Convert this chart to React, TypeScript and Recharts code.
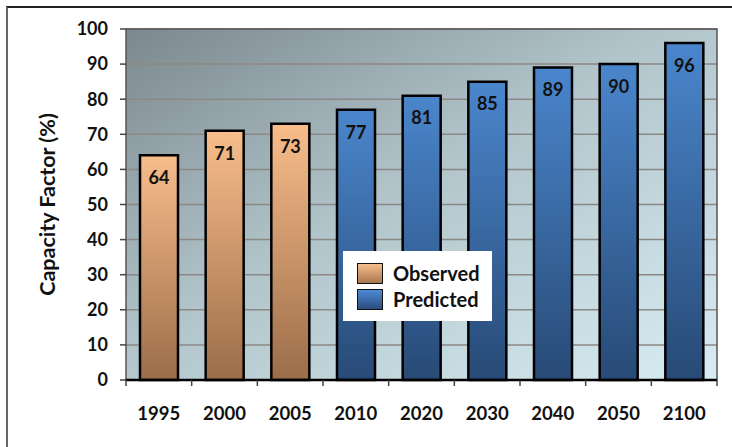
import React from 'react';
import {
  BarChart,
  Bar,
  XAxis,
  YAxis,
  CartesianGrid,
  Legend,
  LabelList,
  ReferenceArea,
} from 'recharts';

const years = ['1995', '2000', '2005', '2010', '2020', '2030', '2040', '2050', '2100'];
const observed: (number | null)[] = [64, 71, 73, null, null, null, null, null, null];
const predicted: (number | null)[] = [null, null, null, 77, 81, 85, 89, 90, 96];
const yTicks = [0, 10, 20, 30, 40, 50, 60, 70, 80, 90, 100];

const seriesNames = { observed: 'Observed', predicted: 'Predicted' };

const data = years.map((year, i) => ({
  year,
  observed: observed[i],
  predicted: predicted[i],
}));

const FONT = 'Lato, "Open Sans", sans-serif';

const YearTick = (props: any) => {
  const { x, y, payload, index, width } = props;
  const band = (width || 591) / years.length;
  const left = x - band / 2;
  const right = x + band / 2;
  return (
    <g>
      <line x1={left} y1={y} x2={left} y2={y + 6} stroke="#444" strokeWidth={1.5} />
      {index === years.length - 1 && (
        <line x1={right} y1={y} x2={right} y2={y + 6} stroke="#444" strokeWidth={1.5} />
      )}
      <text
        x={x}
        y={y + 40}
        textAnchor="middle"
        fontFamily={FONT}
        fontWeight={700}
        fontSize={18.5}
        fill="#111"
      >
        {payload.value}
      </text>
    </g>
  );
};

const swatch = (from: string, to: string): React.CSSProperties => ({
  width: 24,
  height: 19,
  border: '1.5px solid #111',
  background: `linear-gradient(to bottom, ${from}, ${to})`,
  marginRight: 10,
});

const LegendBox = () => (
  <div
    style={{
      background: '#fff',
      width: 149,
      height: 70,
      boxSizing: 'border-box',
      padding: '11px 0 0 14px',
      fontFamily: FONT,
      fontWeight: 700,
      fontSize: 20,
      color: '#111',
    }}
  >
    <div style={{ display: 'flex', alignItems: 'center', height: 22, marginBottom: 4 }}>
      <div style={swatch('#f8bd8c', '#a8774f')} />
      <span>{seriesNames.observed}</span>
    </div>
    <div style={{ display: 'flex', alignItems: 'center', height: 22 }}>
      <div style={swatch('#4d8bd6', '#2a4d7c')} />
      <span>{seriesNames.predicted}</span>
    </div>
  </div>
);

const labelStyle = { fontFamily: FONT, fontWeight: 700, fontSize: 18, fill: '#111' };

export default function App() {
  return (
    <div style={{ position: 'absolute', left: 0, top: 0, width: 732, height: 447, overflow: 'hidden', background: '#fff' }}>
      <div
        style={{
          position: 'absolute',
          left: 6,
          top: 6,
          width: 760,
          height: 480,
          borderTop: '2px solid #222',
          borderLeft: '2px solid #666',
        }}
      />
      <div style={{ position: 'absolute', left: 0, top: 0 }}>
        <BarChart
          width={732}
          height={447}
          data={data}
          margin={{ top: 29, right: 15, bottom: 37, left: 66 }}
          barSize={38}
        >
          <defs>
            <linearGradient id="plotBg" x1="0" y1="0" x2="1" y2="1">
              <stop offset="0%" stopColor="#7c888e" />
              <stop offset="45%" stopColor="#b0c4ca" />
              <stop offset="100%" stopColor="#d8ecf3" />
            </linearGradient>
            <linearGradient id="obsFill" x1="0" y1="0" x2="0" y2="1">
              <stop offset="0%" stopColor="#f9bd8b" />
              <stop offset="100%" stopColor="#9b6d49" />
            </linearGradient>
            <linearGradient id="predFill" x1="0" y1="0" x2="0" y2="1">
              <stop offset="0%" stopColor="#4a86cc" />
              <stop offset="100%" stopColor="#284a76" />
            </linearGradient>
          </defs>
          <CartesianGrid vertical={false} fill="url(#plotBg)" stroke="#8c8884" strokeWidth={1.5} />
          <ReferenceArea
            x1={years[0]}
            x2={years[years.length - 1]}
            y1={0}
            y2={100}
            fill="none"
            stroke="#555"
            strokeWidth={1.5}
            ifOverflow="visible"
          />
          <XAxis
            dataKey="year"
            tick={<YearTick />}
            tickLine={false}
            tickSize={0}
            tickMargin={0}
            axisLine={{ stroke: '#000', strokeWidth: 2.5 }}
            interval={0}
            height={30}
          />
          <YAxis
            domain={[0, 100]}
            ticks={yTicks}
            interval={0}
            width={60}
            axisLine={false}
            tickSize={6}
            tickMargin={12}
            tickLine={{ stroke: '#444', strokeWidth: 1.5 }}
            tick={labelStyle}
            label={{
              value: 'Capacity Factor (%)',
              angle: -90,
              position: 'left',
              offset: 19,
              style: { ...labelStyle, fontSize: 21.5, textAnchor: 'middle' },
            }}
          />
          <Legend
            layout="vertical"
            align="center"
            verticalAlign="middle"
            content={<LegendBox />}
            wrapperStyle={{ left: 343, top: 251, width: 149, height: 70 }}
          />
          <Bar
            dataKey="observed"
            name={seriesNames.observed}
            stackId="cf"
            fill="url(#obsFill)"
            stroke="#000"
            strokeWidth={2.5}
            isAnimationActive={false}
          >
            <LabelList dataKey="observed" position="insideTop" offset={16} style={labelStyle} />
          </Bar>
          <Bar
            dataKey="predicted"
            name={seriesNames.predicted}
            stackId="cf"
            fill="url(#predFill)"
            stroke="#000"
            strokeWidth={2.5}
            isAnimationActive={false}
          >
            <LabelList dataKey="predicted" position="insideTop" offset={16} style={labelStyle} />
          </Bar>
        </BarChart>
      </div>
    </div>
  );
}
